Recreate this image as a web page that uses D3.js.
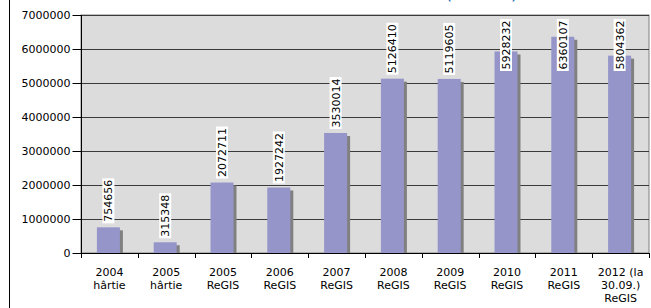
<!DOCTYPE html>
<html>
<head>
<meta charset="utf-8">
<script src="https://cdn.jsdelivr.net/npm/d3@7"></script>
<style>
	body { margin: 0; background: #fff; }
	svg { display: block; font-family: 'DejaVu Sans', Verdana, sans-serif; }
	.grid-line { stroke: #3a3a3a; stroke-width: 1; }
	.axis-line { stroke: #000; stroke-width: 1; shape-rendering: crispEdges; }
</style>
</head>
<body>
<div id="chart-container"></div>
<script>
// categories, two or three label lines each
const categories = [
	['2004', 'hârtie'],
	['2005', 'hârtie'],
	['2005', 'ReGIS'],
	['2006', 'ReGIS'],
	['2007', 'ReGIS'],
	['2008', 'ReGIS'],
	['2009', 'ReGIS'],
	['2010', 'ReGIS'],
	['2011', 'ReGIS'],
	['2012 (la', '30.09.)', 'ReGIS'],
];
const values = [754656, 315348, 2072711, 1927242, 3530014, 5126410, 5119605, 5928232, 6360107, 5804362];
const yTicks = [0, 1000000, 2000000, 3000000, 4000000, 5000000, 6000000, 7000000];

const W = 651, H = 308;
const plot = { left: 81, right: 649, top: 15, bottom: 253 };

const svg = d3
	.select('#chart-container')
	.append('svg')
	.attr('width', W)
	.attr('height', H);

// cut-off title tail at the very top
svg
	.append('text')
	.attr('x', 447)
	.attr('y', 0.2)
	.style('font-size', '10px')
	.style('font-weight', 'bold')
	.style('fill', '#1f6bb0')
	.text('(2004-2012)');

// outer frame (left edge only is visible)
svg
	.append('line')
	.attr('class', 'axis-line')
	.attr('x1', 9.5)
	.attr('x2', 9.5)
	.attr('y1', 0)
	.attr('y2', H);

const x = d3
	.scaleBand()
	.domain(d3.range(categories.length))
	.range([plot.left, plot.right])
	.paddingInner(0.6)
	.paddingOuter(0.28);

const band = (plot.right - plot.left) / categories.length;

const y = d3.scaleLinear().domain([0, 7000000]).range([plot.bottom, plot.top]);

// plot background
svg
	.append('rect')
	.attr('x', plot.left)
	.attr('y', plot.top)
	.attr('width', plot.right - plot.left)
	.attr('height', plot.bottom - plot.top)
	.style('fill', '#dcdcdc')
	.style('stroke', '#808080')
	.style('stroke-width', 1);

// gridlines
svg
	.append('g')
	.selectAll('line')
	.data(yTicks.filter(d => d > 0))
	.enter()
	.append('line')
	.attr('class', 'grid-line')
	.attr('x1', plot.left)
	.attr('x2', plot.right)
	.attr('y1', d => Math.round(y(d)) + 0.5)
	.attr('y2', d => Math.round(y(d)) + 0.5);

const barW = 23;
const barX = i => plot.left + band * i + band / 2 - barW / 2 - 1;

// shadows
svg
	.append('g')
	.selectAll('rect')
	.data(values)
	.enter()
	.append('rect')
	.attr('x', (d, i) => barX(i) + 3)
	.attr('y', d => y(d) + 3)
	.attr('width', barW)
	.attr('height', d => plot.bottom - y(d) - 3)
	.style('fill', '#808080');

// bars
svg
	.append('g')
	.selectAll('rect')
	.data(values)
	.enter()
	.append('rect')
	.attr('x', (d, i) => barX(i))
	.attr('y', d => y(d))
	.attr('width', barW)
	.attr('height', d => plot.bottom - y(d))
	.style('fill', '#9595c9');

// y axis
const yAxis = d3
	.axisLeft(y)
	.tickValues(yTicks)
	.tickSize(9)
	.tickPadding(2)
	.tickFormat(d3.format('d'));

const yAxisElem = svg
	.append('g')
	.attr('transform', 'translate(' + (plot.left + 0.5) + ',0)')
	.call(yAxis);
yAxisElem.select('.domain').attr('d', 'M0,' + plot.top + 'V' + plot.bottom).style('stroke', '#000');
yAxisElem.selectAll('.tick line').style('stroke', '#000');
yAxisElem
	.selectAll('.tick text')
	.style('font-size', '11px')
	.style('font-family', "'DejaVu Sans', Verdana, sans-serif")
	.style('fill', '#000');

// x axis line + ticks
svg
	.append('line')
	.attr('class', 'axis-line')
	.attr('x1', plot.left)
	.attr('x2', plot.right)
	.attr('y1', plot.bottom + 0.5)
	.attr('y2', plot.bottom + 0.5);

svg
	.append('g')
	.selectAll('line')
	.data(d3.range(categories.length + 1))
	.enter()
	.append('line')
	.attr('class', 'axis-line')
	.attr('x1', i => Math.round(plot.left + band * i) + 0.5)
	.attr('x2', i => Math.round(plot.left + band * i) + 0.5)
	.attr('y1', plot.bottom)
	.attr('y2', plot.bottom + 5);

// x labels
const xLabels = svg
	.append('g')
	.selectAll('text')
	.data(categories)
	.enter()
	.append('text')
	.attr('text-anchor', 'middle')
	.attr('transform', (d, i) => 'translate(' + (plot.left + band * i + band / 2) + ',276)')
	.style('font-size', '11px')
	.style('fill', '#000');

xLabels
	.selectAll('tspan')
	.data(d => d)
	.enter()
	.append('tspan')
	.attr('x', 0)
	.attr('y', (d, i) => i * 13)
	.text(d => d);

// data labels, rotated, white box
const labelLen = 52;
const labels = svg
	.append('g')
	.selectAll('g')
	.data(values)
	.enter()
	.append('g')
	.attr('transform', (d, i) => {
		const bottom = Math.max(y(d) - 4, plot.top + 4 + labelLen);
		return 'translate(' + (barX(i) + barW / 2) + ',' + bottom + ') rotate(-90)';
	});

labels
	.append('rect')
	.attr('x', 0)
	.attr('y', -6)
	.attr('width', d => String(d).length * 7 + 3)
	.attr('height', 12)
	.style('fill', '#fff');

labels
	.append('text')
	.attr('x', 1.5)
	.attr('y', 4)
	.style('font-size', '11px')
	.style('fill', '#000')
	.text(d => d);
</script>
</body>
</html>
